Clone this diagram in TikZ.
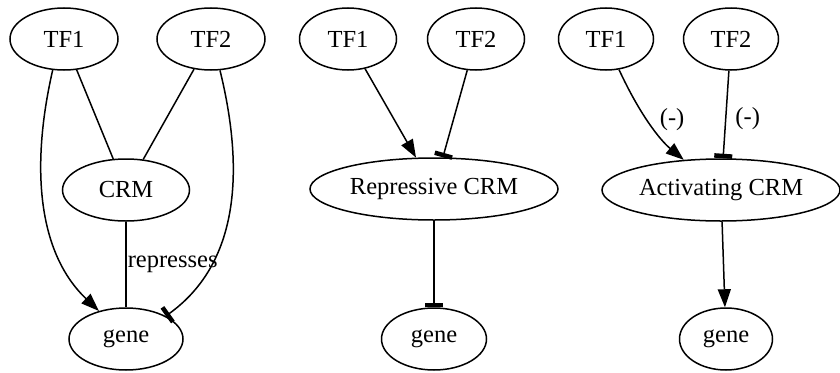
\documentclass[tikz,border=0pt]{standalone}
\usepackage{fontspec}
\setmainfont{Liberation Serif}
\usetikzlibrary{arrows.meta,shapes}
\tikzset{
  ell/.style={draw, ellipse, inner sep=0pt, minimum height=62pt, font=\fontsize{24.5}{25}\selectfont},
  lbl/.style={font=\fontsize{24.5}{25}\selectfont, inner sep=1pt},
  act/.style={-{Triangle[length=18pt,width=13pt]}},
  rep/.style={-{Rectangle[length=4.5pt,width=18pt]}},
}

\begin{document}
\begin{tikzpicture}[x=1pt,y=-1pt,line width=1.5pt]
\useasboundingbox (0,0) rectangle (840,372);
% plain model
\node[ell, minimum width=108pt] (atfa) at (64,39) {TF1};
\node[ell, minimum width=108pt] (atfb) at (211,39) {TF2};
\node[ell, minimum width=127pt] (acrm) at (126,190) {CRM};
\node[ell, minimum width=114pt] (agene) at (126,339) {gene};
\draw (atfa) -- (acrm);
\draw (atfb) -- (acrm);
\draw (acrm) -- (agene) node[midway, right, lbl] {represses};
\draw[act] (atfa.250) .. controls (32,160) and (35,250) .. (agene.134);
\draw[rep] (atfb.286) .. controls (242,160) and (244,260) .. (agene.30);
% repressive CRM
\node[ell, minimum width=97pt] (btfa) at (348,39) {TF1};
\node[ell, minimum width=97pt] (btfb) at (476,39) {TF2};
\node[ell, minimum width=248pt] (bcrm) at (434,189) {Repressive CRM};
\node[ell, minimum width=105pt] (bgene) at (434,339) {gene};
\draw[act] (btfa) -- (bcrm);
\draw[rep] (btfb) -- (bcrm);
\draw[rep] (bcrm) -- (bgene);
% activating CRM
\node[ell, minimum width=95pt] (ctfa) at (606,39) {TF1};
\node[ell, minimum width=95pt] (ctfb) at (731,39) {TF2};
\node[ell, minimum width=238pt] (ccrm) at (721,190) {Activating CRM};
\node[ell, minimum width=93pt] (cgene) at (726,339) {gene};
\draw[act] (ctfa.293) .. controls (640,115) and (660,140) .. (ccrm.141)
  node[pos=0.45, right=11pt, lbl] {(-)};
\draw[rep] (ctfb) -- (ccrm) node[pos=0.55, right=8pt, lbl] {(-)};
\draw[act] (ccrm) -- (cgene);
\end{tikzpicture}
\end{document}
